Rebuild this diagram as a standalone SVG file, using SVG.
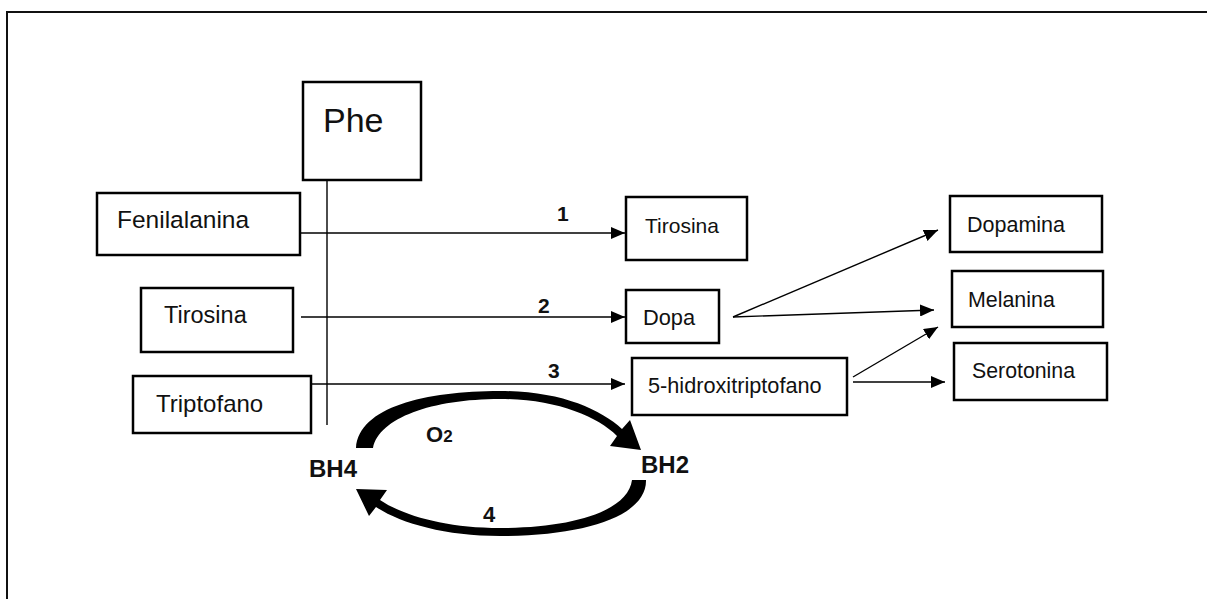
<svg xmlns="http://www.w3.org/2000/svg" width="1207" height="599" viewBox="0 0 1207 599">
  <style>
    .box { fill: #fff; stroke: #000; stroke-width: 2.5; }
    .lbl { font-family: "Liberation Sans", Arial, sans-serif; fill: #111; }
    .num { font-family: "Liberation Sans", Arial, sans-serif; font-weight: bold; font-size: 21px; fill: #111; }
    .link { stroke: #000; stroke-width: 1.4; fill: none; }
    .arr { stroke: #000; stroke-width: 1.4; fill: none; marker-end: url(#head); }
    .cyc { fill: #000; }
  </style>
  <defs>
    <marker id="head" markerUnits="userSpaceOnUse" markerWidth="16" markerHeight="12" refX="14" refY="6" orient="auto">
      <path d="M0,0 L14,6 L0,12 Z" fill="#000"/>
    </marker>
  </defs>

  <rect width="1207" height="599" fill="#fff"/>
  <!-- page frame: top and left edges -->
  <polyline points="7,599 7,12 1207,12" fill="none" stroke="#111" stroke-width="2"/>

  <!-- connectors -->
  <g id="connectors">
    <line class="link" x1="327" y1="180" x2="327" y2="425"/>
    <line class="arr" x1="301" y1="233" x2="625" y2="233"/>
    <line class="arr" x1="301" y1="317" x2="625" y2="317"/>
    <line class="arr" x1="311" y1="384" x2="625" y2="384"/>
    <line class="arr" x1="733" y1="317" x2="938" y2="230"/>
    <line class="arr" x1="733" y1="317" x2="934" y2="310"/>
    <line class="arr" x1="853" y1="377" x2="938" y2="327"/>
    <line class="arr" x1="853" y1="382" x2="945" y2="382"/>
    <text class="num" x="557" y="221">1</text>
    <text class="num" x="538" y="313">2</text>
    <text class="num" x="548" y="378">3</text>
  </g>

  <!-- BH4 / BH2 cycle -->
  <g id="cycle">
    <path class="cyc" d="M356,448 C359,407 425,391 500,391 C560,391 600,409 622,429 L630,420 L641,450 L610,446 L617,436 C597,416 555,399 500,399 C432,399 379,418 373,448 Z"/>
    <path class="cyc" d="M646,480 C647,516 585,536 500,536 C445,536 400,523 376,507 L369,516 L356,489 L387,490 L380,500 C402,515 445,528 500,528 C570,528 628,512 632,480 Z"/>
    <text class="num" x="309" y="477" style="font-size:24px">BH4</text>
    <text class="num" x="641" y="473" style="font-size:24px">BH2</text>
    <text class="num" x="426" y="442" style="font-size:22px">O<tspan style="font-size:17px">2</tspan></text>
    <text class="num" x="483" y="522" style="font-size:22px">4</text>
  </g>

  <g id="phe">
    <rect class="box" x="303" y="82" width="118" height="98"/>
    <text class="lbl" x="323" y="132" font-size="34">Phe</text>
  </g>
  <g id="fenilalanina">
    <rect class="box" x="97" y="193" width="203" height="62"/>
    <text class="lbl" x="117" y="228" font-size="24.5">Fenilalanina</text>
  </g>
  <g id="tirosina-in">
    <rect class="box" x="141" y="288" width="152" height="64"/>
    <text class="lbl" x="164" y="323" font-size="23.5">Tirosina</text>
  </g>
  <g id="triptofano">
    <rect class="box" x="133" y="376" width="178" height="57"/>
    <text class="lbl" x="156" y="412" font-size="24">Triptofano</text>
  </g>
  <g id="tirosina-out">
    <rect class="box" x="626" y="197" width="121" height="63"/>
    <text class="lbl" x="645" y="233" font-size="21">Tirosina</text>
  </g>
  <g id="dopa">
    <rect class="box" x="626" y="290" width="93" height="53"/>
    <text class="lbl" x="643" y="325" font-size="21.8">Dopa</text>
  </g>
  <g id="hidroxitriptofano">
    <rect class="box" x="632" y="358" width="215" height="57"/>
    <text class="lbl" x="648" y="393" font-size="21.7">5-hidroxitriptofano</text>
  </g>
  <g id="dopamina">
    <rect class="box" x="950" y="196" width="152" height="56"/>
    <text class="lbl" x="967" y="232" font-size="21.5">Dopamina</text>
  </g>
  <g id="melanina">
    <rect class="box" x="952" y="271" width="151" height="56"/>
    <text class="lbl" x="968" y="307" font-size="21.4">Melanina</text>
  </g>
  <g id="serotonina">
    <rect class="box" x="954" y="343" width="153" height="57"/>
    <text class="lbl" x="972" y="378" font-size="21.3">Serotonina</text>
  </g>
</svg>
